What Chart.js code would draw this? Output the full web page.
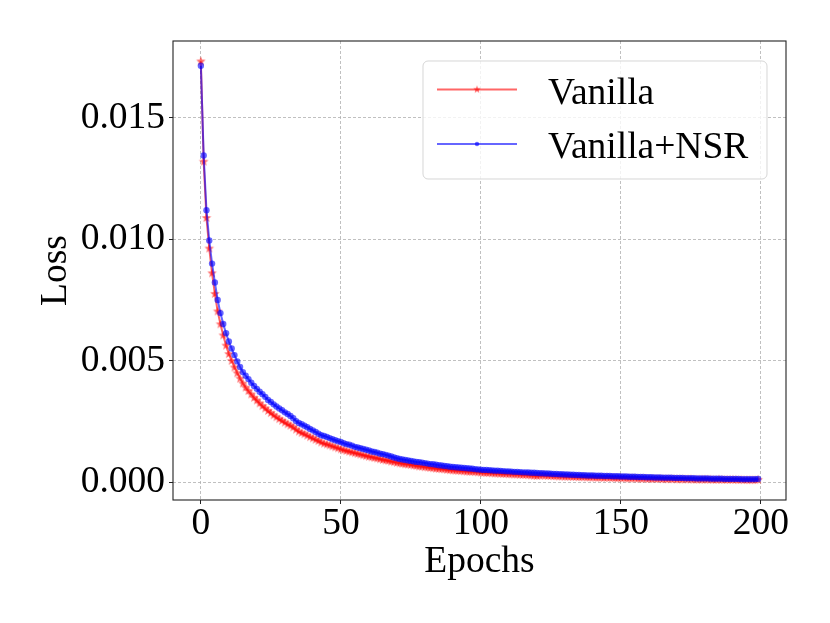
<!DOCTYPE html>
<html lang="en">
<head>
    <meta charset="UTF-8">
    <title>Loss curve</title>
    <script src="https://cdn.jsdelivr.net/npm/chart.js"></script>
    <style>
        html, body {
            margin: 0;
            padding: 0;
            background: #fff;
        }

        #lossChart {
            display: block;
        }
    </style>
</head>
<body>

    <canvas id="lossChart" width="830" height="623"></canvas>

    <script>
        // 軸の目盛り
        var xTicks = [0, 50, 100, 150, 200];
        var yTicks = [0, 0.005, 0.010, 0.015];

        var seriesNames = ['Vanilla', 'Vanilla+NSR'];

        // Vanilla (red, star)
        var vanillaLoss = [
            0.01733, 0.01320, 0.01088, 0.00962, 0.00860, 0.00775, 0.00703, 0.00650, 0.00604, 0.00562,
            0.00527, 0.00499, 0.00472, 0.00448, 0.00426, 0.00406, 0.00389, 0.00375, 0.00361, 0.00347,
            0.00336, 0.00324, 0.00313, 0.00303, 0.00293, 0.00284, 0.00275, 0.00267, 0.00259, 0.00252,
            0.00245, 0.00238, 0.00232, 0.00225, 0.00216, 0.00208, 0.00202, 0.00197, 0.00191, 0.00185,
            0.00180, 0.00174, 0.00169, 0.00163, 0.00158, 0.00155, 0.00151, 0.00147, 0.00143, 0.00139,
            0.00135, 0.00131, 0.00128, 0.00125, 0.00122, 0.00119, 0.00116, 0.00113, 0.00110, 0.00107,
            0.00104, 0.00102, 0.00099, 0.00097, 0.00094, 0.00091, 0.00089, 0.00087, 0.00084, 0.00082,
            0.00079, 0.00077, 0.00075, 0.00073, 0.00072, 0.00070, 0.00068, 0.00066, 0.00064, 0.00063,
            0.00061, 0.00060, 0.00058, 0.00057, 0.00055, 0.00054, 0.00053, 0.00052, 0.00050, 0.00049,
            0.00048, 0.00047, 0.00046, 0.00045, 0.00044, 0.00043, 0.00042, 0.00042, 0.00041, 0.00040,
            0.00039, 0.00038, 0.00037, 0.00037, 0.00036, 0.00035, 0.00035, 0.00034, 0.00033, 0.00033,
            0.00032, 0.00032, 0.00031, 0.00031, 0.00030, 0.00029, 0.00029, 0.00028, 0.00027, 0.00026,
            0.00025, 0.00026, 0.00027, 0.00026, 0.00025, 0.00025, 0.00024, 0.00024, 0.00023, 0.00023,
            0.00022, 0.00022, 0.00022, 0.00021, 0.00021, 0.00020, 0.00020, 0.00020, 0.00019, 0.00019,
            0.00019, 0.00018, 0.00018, 0.00018, 0.00017, 0.00018, 0.00017, 0.00017, 0.00016, 0.00016,
            0.00016, 0.00016, 0.00015, 0.00015, 0.00015, 0.00015, 0.00014, 0.00014, 0.00014, 0.00014,
            0.00013, 0.00013, 0.00013, 0.00013, 0.00013, 0.00012, 0.00012, 0.00012, 0.00012, 0.00012,
            0.00011, 0.00011, 0.00011, 0.00011, 0.00011, 0.00011, 0.00010, 0.00010, 0.00010, 0.00010,
            0.00010, 0.00010, 0.00010, 0.00009, 0.00009, 0.00010, 0.00009, 0.00009, 0.00009, 0.00009,
            0.00009, 0.00009, 0.00008, 0.00009, 0.00008, 0.00008, 0.00008, 0.00008, 0.00008, 0.00009
        ];

        // Vanilla+NSR (blue, dot)
        var nsrLoss = [
            0.01715, 0.01345, 0.01120, 0.00995, 0.00900, 0.00822, 0.00750, 0.00696, 0.00651, 0.00613,
            0.00579, 0.00550, 0.00523, 0.00497, 0.00474, 0.00453, 0.00438, 0.00424, 0.00409, 0.00396,
            0.00384, 0.00372, 0.00362, 0.00351, 0.00338, 0.00330, 0.00320, 0.00311, 0.00303, 0.00296,
            0.00287, 0.00280, 0.00272, 0.00263, 0.00251, 0.00243, 0.00238, 0.00232, 0.00226, 0.00219,
            0.00213, 0.00206, 0.00199, 0.00193, 0.00190, 0.00186, 0.00181, 0.00176, 0.00172, 0.00168,
            0.00165, 0.00160, 0.00156, 0.00154, 0.00150, 0.00145, 0.00142, 0.00139, 0.00136, 0.00133,
            0.00130, 0.00126, 0.00124, 0.00121, 0.00117, 0.00115, 0.00112, 0.00109, 0.00105, 0.00101,
            0.00098, 0.00095, 0.00093, 0.00091, 0.00089, 0.00087, 0.00085, 0.00083, 0.00082, 0.00080,
            0.00078, 0.00076, 0.00074, 0.00073, 0.00071, 0.00069, 0.00068, 0.00066, 0.00065, 0.00063,
            0.00062, 0.00061, 0.00060, 0.00059, 0.00058, 0.00057, 0.00056, 0.00055, 0.00053, 0.00052,
            0.00051, 0.00050, 0.00050, 0.00049, 0.00048, 0.00047, 0.00047, 0.00046, 0.00045, 0.00044,
            0.00044, 0.00043, 0.00042, 0.00042, 0.00041, 0.00040, 0.00040, 0.00039, 0.00038, 0.00038,
            0.00037, 0.00036, 0.00036, 0.00035, 0.00035, 0.00034, 0.00033, 0.00033, 0.00032, 0.00032,
            0.00031, 0.00031, 0.00030, 0.00030, 0.00029, 0.00029, 0.00028, 0.00028, 0.00027, 0.00027,
            0.00027, 0.00026, 0.00026, 0.00026, 0.00025, 0.00025, 0.00025, 0.00024, 0.00024, 0.00024,
            0.00023, 0.00023, 0.00023, 0.00022, 0.00022, 0.00022, 0.00021, 0.00021, 0.00021, 0.00020,
            0.00020, 0.00020, 0.00019, 0.00019, 0.00019, 0.00018, 0.00018, 0.00018, 0.00018, 0.00017,
            0.00017, 0.00017, 0.00017, 0.00016, 0.00016, 0.00016, 0.00016, 0.00015, 0.00015, 0.00015,
            0.00015, 0.00015, 0.00014, 0.00014, 0.00014, 0.00014, 0.00014, 0.00013, 0.00013, 0.00013,
            0.00013, 0.00013, 0.00013, 0.00012, 0.00012, 0.00012, 0.00012, 0.00012, 0.00012, 0.00013
        ];

        // エポック番号 (0, 1, 2, ...)
        var epochs = vanillaLoss.map(function (v, i) { return i; });

        var serif = "'Liberation Serif', 'Times New Roman', serif";
        var redColor = 'rgba(255, 0, 0, 0.6)';
        var blueColor = 'rgba(0, 0, 255, 0.6)';

        // matplotlibの '*' マーカー風の塗りつぶし星
        function makeStar(color, r) {
            var size = Math.ceil(r * 2) + 2;
            var c = document.createElement('canvas');
            c.width = size;
            c.height = size;
            var g = c.getContext('2d');
            var cx = size / 2, cy = size / 2;
            g.beginPath();
            for (var k = 0; k < 10; k++) {
                var rad = (k % 2 === 0) ? r : r * 0.42;
                var ang = -Math.PI / 2 + k * Math.PI / 5;
                var px = cx + rad * Math.cos(ang);
                var py = cy + rad * Math.sin(ang);
                if (k === 0) g.moveTo(px, py); else g.lineTo(px, py);
            }
            g.closePath();
            g.fillStyle = color;
            g.fill();
            return c;
        }

        var redStar = makeStar(redColor, 5);
        var redStarSmall = makeStar(redColor, 4);

        // 枠線と凡例（matplotlib風）
        var frameLegendPlugin = {
            id: 'frameLegend',
            afterDatasetsDraw: function (chart) {
                var ctx = chart.ctx;
                var a = chart.chartArea;

                ctx.save();
                ctx.strokeStyle = '#222';
                ctx.lineWidth = 1.1;
                ctx.strokeRect(a.left, a.top, a.right - a.left, a.bottom - a.top);

                var boxW = 344, boxH = 118;
                var x0 = a.right - 19 - boxW;
                var y0 = a.top + 20;
                ctx.beginPath();
                ctx.roundRect(x0, y0, boxW, boxH, 5);
                ctx.fillStyle = 'rgba(255, 255, 255, 0.8)';
                ctx.fill();
                ctx.strokeStyle = 'rgba(204, 204, 204, 0.8)';
                ctx.lineWidth = 1;
                ctx.stroke();

                chart.data.datasets.forEach(function (ds, i) {
                    var y = y0 + 28.5 + i * 54.5;
                    ctx.beginPath();
                    ctx.moveTo(x0 + 14, y);
                    ctx.lineTo(x0 + 94, y);
                    ctx.strokeStyle = ds.borderColor;
                    ctx.lineWidth = 2;
                    ctx.stroke();

                    if (ds.pointStyle instanceof HTMLCanvasElement) {
                        var img = redStarSmall;
                        ctx.drawImage(img, x0 + 54 - img.width / 2, y - img.height / 2);
                    } else {
                        ctx.beginPath();
                        ctx.arc(x0 + 54, y, 2.2, 0, Math.PI * 2);
                        ctx.fillStyle = ds.pointBackgroundColor;
                        ctx.fill();
                    }

                    ctx.fillStyle = '#000';
                    ctx.font = '37.5px ' + serif;
                    ctx.textAlign = 'left';
                    ctx.textBaseline = 'alphabetic';
                    ctx.fillText(ds.label, x0 + 125, y + 14);
                });
                ctx.restore();
            }
        };

        var ctx = document.getElementById('lossChart').getContext('2d');
        var lossChart = new Chart(ctx, {
            type: 'line',
            data: {
                labels: epochs,
                datasets: [{
                    label: seriesNames[0],
                    data: vanillaLoss,
                    borderColor: redColor,
                    borderWidth: 2,
                    pointStyle: redStar,
                    pointRadius: 5,
                    tension: 0,
                    fill: false,
                    order: 2
                }, {
                    label: seriesNames[1],
                    data: nsrLoss,
                    borderColor: blueColor,
                    borderWidth: 2,
                    pointStyle: 'circle',
                    pointRadius: 3.2,
                    pointBorderWidth: 0,
                    pointBackgroundColor: blueColor,
                    tension: 0,
                    fill: false,
                    order: 1
                }]
            },
            options: {
                responsive: false,
                animation: false,
                events: [],
                layout: {
                    padding: { top: 41, right: 44, left: 0, bottom: 0 }
                },
                plugins: {
                    legend: { display: false },
                    tooltip: { enabled: false }
                },
                scales: {
                    x: {
                        type: 'linear',
                        min: -9.95,
                        max: 208.95,
                        afterBuildTicks: function (scale) {
                            scale.ticks = xTicks.map(function (v) { return { value: v }; });
                        },
                        afterFit: function (scale) {
                            scale.height = 123;
                        },
                        ticks: {
                            color: '#000',
                            font: { family: serif, size: 37.5, lineHeight: 1 },
                            padding: 1,
                            maxRotation: 0,
                            autoSkip: false,
                            callback: function (v) { return v; }
                        },
                        grid: {
                            color: '#b0b0b0',
                            lineWidth: 0.8,
                            tickColor: '#222',
                            tickLength: 4,
                            tickWidth: 1,
                            tickBorderDash: []
                        },
                        border: { display: false, dash: [3, 2] },
                        title: {
                            display: true,
                            text: 'Epochs',
                            color: '#000',
                            font: { family: serif, size: 37.5 },
                            padding: { top: 0, bottom: 38 }
                        }
                    },
                    y: {
                        type: 'linear',
                        min: -0.00074,
                        max: 0.01817,
                        afterBuildTicks: function (scale) {
                            scale.ticks = yTicks.map(function (v) { return { value: v }; });
                        },
                        afterFit: function (scale) {
                            scale.width = 173;
                        },
                        ticks: {
                            color: '#000',
                            font: { family: serif, size: 37.5 },
                            padding: 4,
                            callback: function (v) { return v.toFixed(3); }
                        },
                        grid: {
                            color: '#b0b0b0',
                            lineWidth: 0.8,
                            tickColor: '#222',
                            tickLength: 4,
                            tickWidth: 1,
                            tickBorderDash: []
                        },
                        border: { display: false, dash: [3, 2] },
                        title: {
                            display: true,
                            text: 'Loss',
                            color: '#000',
                            font: { family: serif, size: 37.5 },
                            padding: { top: 34, bottom: 0 }
                        }
                    }
                }
            },
            plugins: [frameLegendPlugin]
        });
    </script>

</body>
</html>
